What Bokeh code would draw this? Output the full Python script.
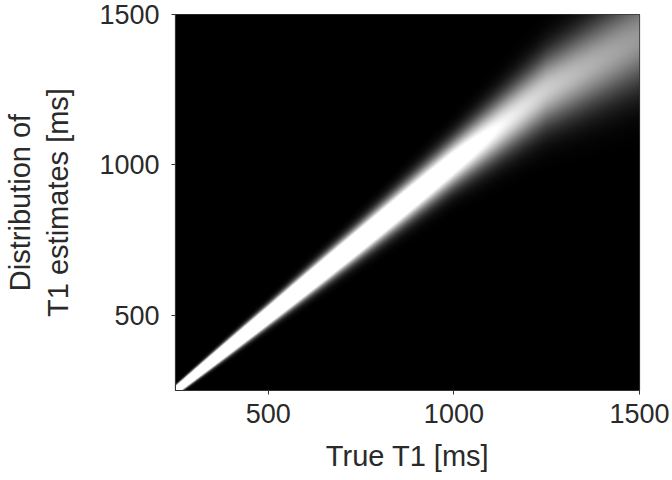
import numpy as np
from bokeh.plotting import figure
from bokeh.models import LinearColorMapper, FixedTicker
from bokeh.palettes import Greys256
from bokeh.embed import file_html
from bokeh.resources import INLINE

# Spread of the T1 estimates, read at a few true-T1 positions (ms)
true_t1_ms = [250, 500, 750, 1000, 1250, 1500]
mean_estimate_ms = [250, 500, 752, 1008, 1250, 1420]
sd_estimate_ms = [7, 19, 34, 52, 82, 110]

# brightness scale of the histogram: counts per bin ~ display_gain / sd
display_gain = 66.0

x_ticks = [500, 1000, 1500]
y_ticks = [500, 1000, 1500]
t1_min, t1_max = 250, 1500

# Density image: one column per true T1, gaussian spread of estimates along y
nx, ny = 464, 376
xs = np.linspace(t1_min, t1_max, nx)
ys = np.linspace(t1_min, t1_max, ny)
mu = np.interp(xs, true_t1_ms, mean_estimate_ms)
sd = np.interp(xs, true_t1_ms, sd_estimate_ms)
Y = ys[:, None]
density = (display_gain / sd[None, :]) * np.exp(-0.5 * ((Y - mu[None, :]) / sd[None, :]) ** 2)
density = np.clip(density, 0.0, 1.0)

mapper = LinearColorMapper(palette=Greys256, low=0.0, high=1.0)

p = figure(
    width=672, height=480,
    x_range=(t1_min, t1_max), y_range=(t1_min, t1_max),
    min_border_left=175, min_border_right=33,
    min_border_top=14, min_border_bottom=90,
    toolbar_location=None, output_backend="svg",
)
p.image(image=[density], x=t1_min, y=t1_min, dw=t1_max - t1_min,
        dh=t1_max - t1_min, color_mapper=mapper)

p.xgrid.visible = False
p.ygrid.visible = False
p.outline_line_color = "#333333"
p.outline_line_width = 1.2
p.background_fill_color = "black"

text_color = "#2a2a2a"
for ax in (p.xaxis[0], p.yaxis[0]):
    ax.minor_tick_line_color = None
    ax.major_tick_in = 0
    ax.major_tick_out = 4
    ax.axis_line_color = "#333333"
    ax.major_tick_line_color = "#333333"
    ax.major_label_text_font = "Liberation Sans"
    ax.major_label_text_font_size = "27px"
    ax.major_label_text_color = text_color
    ax.axis_label_text_font = "Liberation Sans"
    ax.axis_label_text_font_size = "29px"
    ax.axis_label_text_font_style = "normal"
    ax.axis_label_text_color = text_color

p.xaxis[0].ticker = FixedTicker(ticks=x_ticks)
p.yaxis[0].ticker = FixedTicker(ticks=y_ticks)
p.xaxis[0].axis_label = "True T1 [ms]"
p.yaxis[0].axis_label = "Distribution of\nT1 estimates [ms]"
p.xaxis[0].major_label_standoff = 9
p.yaxis[0].major_label_standoff = 12
p.xaxis[0].axis_label_standoff = 14
p.yaxis[0].axis_label_standoff = 22

open("out.html", "w").write(file_html(p, INLINE))
